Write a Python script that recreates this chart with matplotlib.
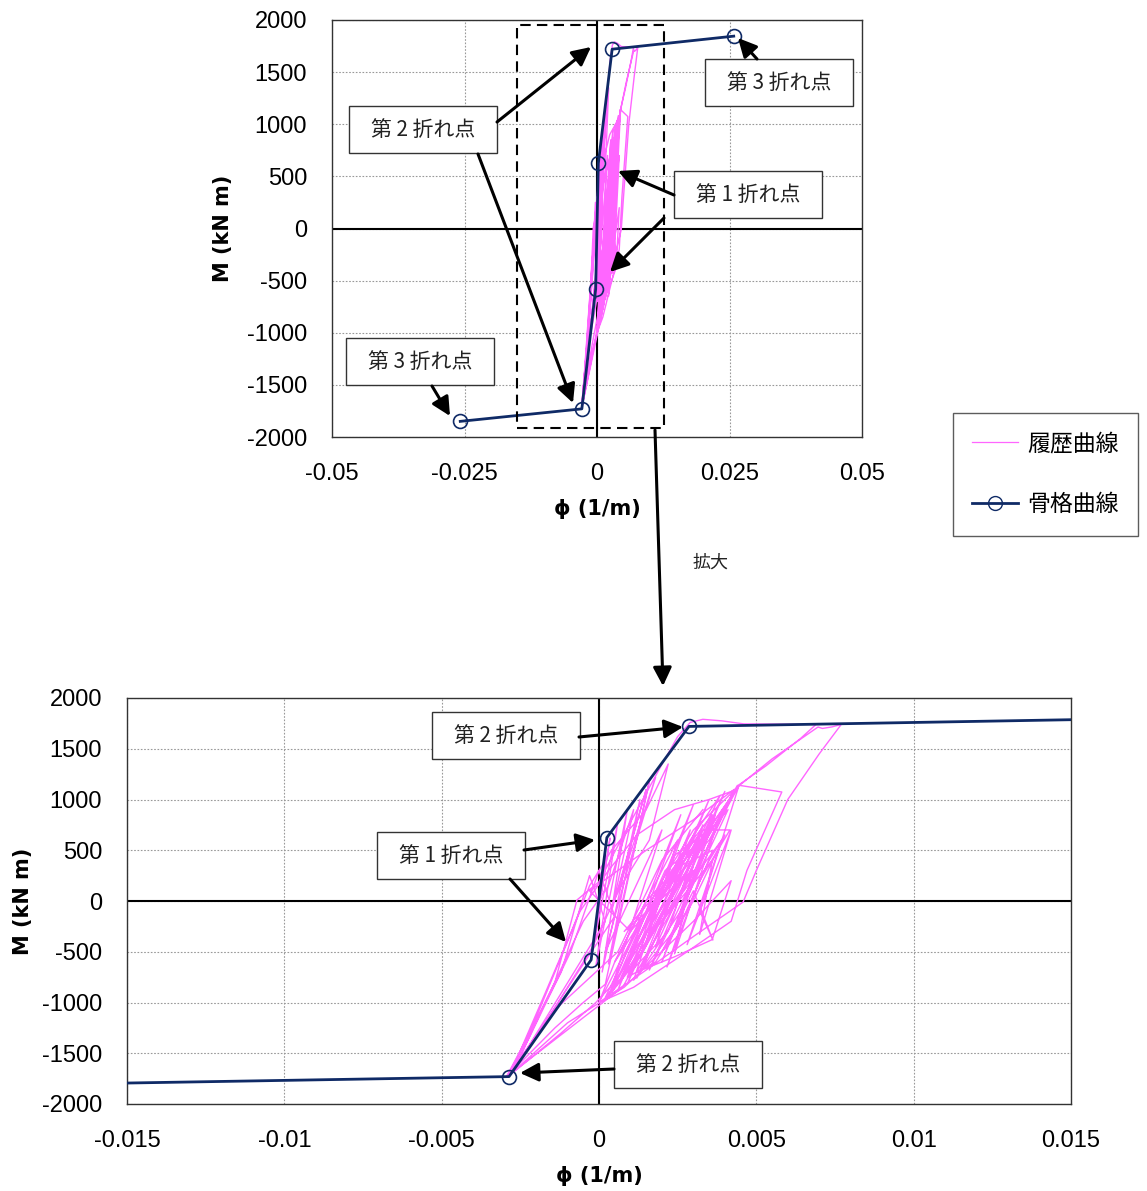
import numpy as np
import matplotlib
matplotlib.use("Agg")
import matplotlib.pyplot as plt
from matplotlib.patches import Rectangle, FancyArrowPatch
from matplotlib.lines import Line2D

plt.rcParams["font.family"] = ["Liberation Sans", "Noto Sans CJK JP", "DejaVu Sans"]

# 骨格曲線 (skeleton): phi [1/m], M [kN m]
skel_phi = [-0.0258, -0.00286, -0.00025, 0.00025, 0.00286, 0.0258]
skel_m = [-1850, -1730, -580, 625, 1720, 1845]

# 履歴曲線 (hysteresis), phi in 1e-3 /m
hyst_phi_e3 = [
    0.00, 0.20, -0.15, 0.35, -0.25, 0.60, -0.10, 0.90, 0.10, 1.30,
    0.30, 1.60, 0.20, -0.50, -1.40, -2.95, -2.20, -1.40, -0.70, 0.00,
    0.90, 1.90, 2.50, 2.90, 3.30, 3.90, 4.60, 6.90, 6.40, 5.30,
    4.45, 3.70, 2.80, 1.50, 0.50, -0.10, -1.20, -2.85, -2.00, -1.00,
    -0.30, 0.40, 1.50, 2.20, 1.60, 0.70, -0.20, -1.50, -2.80, -1.70,
    -0.60, 0.30, 1.20, 2.40, 3.50, 4.30, 3.60, 2.20, 0.76, -2.90,
    -1.20, -0.30, 0.20, -2.75, -0.90, 0.00, 0.50, -2.70, -0.50, 0.30,
    1.10, 0.40, 1.50, 0.60, 1.80, 0.90, 0.20, 2.00, 0.30, 2.60,
    0.60, 3.00, 0.90, 3.50, 1.20, 4.00, 1.60, 4.40, 3.40, 2.00,
    3.80, 2.40, 3.20, 1.00, 2.80, 0.50, 2.50, 1.50, 3.90, 2.80,
    4.20, 3.20, 3.60, 2.00, 3.00, 0.80, 4.10, 2.60, 1.40, 3.30,
    2.20, 1.00, 2.90, 1.80, 3.70, 2.50, 1.10, 2.40, 3.50, 1.30,
    0.40, 2.10, 3.10, 1.90, 0.70, 1.80, 2.90, 3.85, 3.00, 1.60,
    0.40, 1.50, 2.60, 3.60, 2.70, 1.40, 0.20, 1.20, 2.30, 3.30,
    4.16, 3.20, 2.16, 2.70, 3.50, 4.00, 3.00, 1.80, 0.90, 1.70,
    2.60, 3.62, 2.80, 2.00, 3.00, 3.62, 3.20, 4.45, 5.81, 4.70,
    4.20, 2.80, 1.10, 0.00, 1.00, 2.00, 3.00, 4.48, 5.50, 6.96,
    7.10, 7.40, 7.70, 7.00, 6.00, 5.00, 4.58, 3.00, 1.50, 0.00,
    0.50, 1.50, 3.00, 4.42, 3.50, 1.00, -0.30, 1.50, 3.00, 4.30,
    3.40, 1.20, 2.40, 3.60, 4.20, 3.00, 0.80, -1.00, -2.90, -1.50,
    0.60, 2.00, 3.30,
]
hyst_m = [
    0, 450, -380, 620, -560, 780, -640, 900, -700, 1000,
    -620, 1180, -820, -1000, -1250, -1735, -1300, -800, 10, 190,
    720, 1290, 1620, 1760, 1790, 1775, 1745, 1740, 1600, 1330,
    1145, 800, 300, -300, -800, -1000, -1300, -1720, -1150, -400,
    150, 500, 900, 1350, 600, 150, -450, -1100, -1690, -900,
    -100, 300, 650, 900, 1000, 1090, 700, 0, -847, -1725,
    -700, 250, -200, -1690, -500, 300, -150, -1660, -200, 150,
    900, -100, 1100, 100, 1220, 300, -500, 700, -950, 850,
    -880, 950, -820, 1000, -760, 1080, -680, 1140, 600, -600,
    800, -520, 650, -500, 500, -600, 600, -400, 600, -430,
    700, -330, 400, -200, 300, -300, 900, -100, -650, 750,
    -300, -700, 700, -450, 850, -250, -780, 450, 700, -550,
    -900, 300, 550, -100, -750, 0, 600, 1040, 500, -350,
    -900, -200, 450, 850, 250, -500, -950, -300, 300, 700,
    700, 200, -650, -150, 400, 650, 0, -600, -750, -100,
    350, 500, -100, -500, 100, -384, -100, 1140, 1074, 300,
    -200, -500, -850, -1000, -400, 200, 700, 1143, 1400, 1714,
    1700, 1715, 1740, 1450, 1000, 300, -10, -350, -680, -1000,
    -600, 0, 500, 1120, 600, -300, 100, 500, 800, 1100,
    500, -700, -550, -380, 200, -200, -850, -1200, -1730, -1100,
    -500, 400, 900,
]
hyst_phi = np.array(hyst_phi_e3) * 1e-3

top_xticks = [-0.05, -0.025, 0, 0.025, 0.05]
top_xlabels = ["-0.05", "-0.025", "0", "0.025", "0.05"]
bot_xticks = [-0.015, -0.01, -0.005, 0, 0.005, 0.01, 0.015]
bot_xlabels = ["-0.015", "-0.01", "-0.005", "0", "0.005", "0.01", "0.015"]
yticks = [2000, 1500, 1000, 500, 0, -500, -1000, -1500, -2000]

W, H = 1147, 1191
pink = "#FF66FF"
navy = "#0F2A66"

fig = plt.figure(figsize=(W / 100, H / 100), dpi=100)


def fp(x, y):
    # top-left pixel -> figure fraction
    return (x / W, 1 - y / H)


def setup(ax, xlim, xticks, xlabels, xlabelpad, ylabelpad):
    ax.plot(hyst_phi, hyst_m, color=pink, lw=1.0, zorder=2)
    ax.plot(skel_phi, skel_m, color=navy, lw=2, marker="o", ms=10,
            mfc="none", mec=navy, mew=1.2, zorder=4)
    ax.axhline(0, color="black", lw=1.5, zorder=1.5)
    ax.axvline(0, color="black", lw=1.5, zorder=1.5)
    ax.set_xlim(xlim)
    ax.set_ylim(-2000, 2000)
    ax.set_xticks(xticks)
    ax.set_xticklabels(xlabels)
    ax.set_yticks(yticks)
    ax.set_yticklabels([str(v) for v in yticks])
    ax.tick_params(length=0, labelsize=17)
    ax.tick_params(axis="x", pad=19)
    ax.tick_params(axis="y", pad=18)
    ax.grid(True, color="#999999", ls=(0, (1.5, 1.5)), lw=0.8)
    ax.set_axisbelow(True)
    for s in ax.spines.values():
        s.set_color("#333333")
        s.set_linewidth(1)
    ax.set_xlabel("ϕ (1/m)", fontsize=15, fontweight="bold",
                  family=["DejaVu Sans"], labelpad=xlabelpad)
    ax.set_ylabel("M (kN m)", fontsize=15, fontweight="bold",
                  family=["DejaVu Sans"], labelpad=ylabelpad)


ax1 = fig.add_axes([332 / W, 1 - 437 / H, 530 / W, 417 / H])
setup(ax1, (-0.05, 0.05), top_xticks, top_xlabels, 10, 10)
ax2 = fig.add_axes([127 / W, 1 - 1104 / H, 944 / W, 406 / H])
setup(ax2, (-0.015, 0.015), bot_xticks, bot_xlabels, 10, 6)

# dashed zoom frame on the upper chart
fig.patches.append(Rectangle(fp(517, 428), 147 / W, 403 / H, transform=fig.transFigure,
                             fill=False, ls=(0, (5, 3)), lw=1.5, ec="black", zorder=5))

arr = dict(arrowstyle="-|>", mutation_scale=28, lw=2.2, color="black", shrinkA=0, shrinkB=0)


def box(x0, y0, text):
    fig.patches.append(Rectangle(fp(x0, y0 + 47), 148 / W, 47 / H, transform=fig.transFigure,
                                 fc="white", ec="#333333", lw=1, zorder=6))
    fig.text(*fp(x0 + 74, y0 + 24), text, ha="center", va="center", fontsize=15,
             family=["Noto Sans CJK JP"], color="#222222", zorder=7)


def arrow(x1, y1, x2, y2):
    fig.add_artist(FancyArrowPatch(fp(x1, y1), fp(x2, y2), transform=fig.transFigure,
                                   zorder=8, **arr))


# upper chart annotations
arrow(757, 59, 738, 38)
box(705, 59, "第 3 折れ点")
arrow(497, 122, 591, 47)
arrow(478, 154, 573, 403)
box(349, 106, "第 2 折れ点")
arrow(674, 195, 618, 171)
arrow(664, 218, 610, 272)
box(674, 171, "第 1 折れ点")
arrow(432, 386, 450, 416)
box(346, 338, "第 3 折れ点")

# lower chart annotations
arrow(579, 737, 683, 727)
box(432, 712, "第 2 折れ点")
arrow(524, 850, 595, 840)
arrow(510, 879, 566, 942)
box(377, 832, "第 1 折れ点")
arrow(614, 1069, 520, 1073)
box(614, 1041, "第 2 折れ点")

# link between charts
arrow(655, 430, 663, 686)
fig.text(*fp(711, 563), "拡大", ha="center", va="center", fontsize=13,
         family=["Noto Sans CJK JP"], color="#222222")

handles = [
    Line2D([], [], color=pink, lw=0.9),
    Line2D([], [], color=navy, lw=2, marker="o", ms=10, mfc="none", mec=navy),
]
leg = fig.legend(handles, ["履歴曲線", "骨格曲線"], loc="upper left",
                 bbox_to_anchor=fp(953, 413), borderaxespad=0, frameon=True,
                 fancybox=False, edgecolor="#333333", handlelength=2.0,
                 handletextpad=0.4, labelspacing=1.65, borderpad=0.85,
                 prop={"family": ["Noto Sans CJK JP"], "size": 16.5})
leg.get_frame().set_linewidth(1)

fig.savefig("out.png", dpi=100)
